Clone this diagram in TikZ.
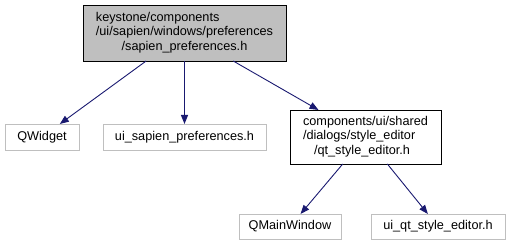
\documentclass[tikz,border=0pt]{standalone}
\usepackage{fontspec}
\setmainfont{Liberation Sans}
\usetikzlibrary{arrows.meta}
\definecolor{edgeblue}{HTML}{191970}
\definecolor{extgray}{HTML}{BFBFBF}
\begin{document}
\begin{tikzpicture}[x=1pt,y=-1pt,
  every node/.style={font=\fontsize{12.7}{14.5}\selectfont, inner sep=0pt, outer sep=0pt},
  extbox/.style={draw=extgray, line width=0.9pt, anchor=north west},
  intbox/.style={draw=black, line width=0.9pt, anchor=north west},
  dep/.style={draw=edgeblue, line width=0.9pt, -{Triangle[length=9pt,width=7pt]}}]
\useasboundingbox (0,0) rectangle (511,245);
\node[intbox, fill=extgray, minimum width=203pt, minimum height=56pt] (top) at (83,5) {};
\node (toptext) at (top.center) {\begin{tabular}{@{}l@{}}keystone/components\\/ui/sapien/windows/preferences\\\multicolumn{1}{@{}c@{}}{/sapien\_preferences.h}\end{tabular}};
\node[extbox, minimum width=74pt, minimum height=26pt] (qwidget) at (5,124) {QWidget};
\node[extbox, minimum width=163pt, minimum height=26pt] (uisap) at (103,124) {ui\_sapien\_preferences.h};
\node[intbox, minimum width=151pt, minimum height=54pt] (qt) at (290,110) {};
\node (qttext) at (qt.center) {\begin{tabular}{@{}l@{}}components/ui/shared\\/dialogs/style\_editor\\\hspace{11pt}/qt\_style\_editor.h\end{tabular}};
\node[extbox, minimum width=102pt, minimum height=25pt] (qmain) at (239,214) {QMainWindow};
\node[extbox, minimum width=134pt, minimum height=25pt] (uiqt) at (371,214) {ui\_qt\_style\_editor.h};
\draw[dep] (top) -- (qwidget);
\draw[dep] (top) -- (uisap);
\draw[dep] (top) -- (qt);
\draw[dep] (qt) -- (qmain);
\draw[dep] (qt) -- (uiqt);
\end{tikzpicture}
\end{document}
